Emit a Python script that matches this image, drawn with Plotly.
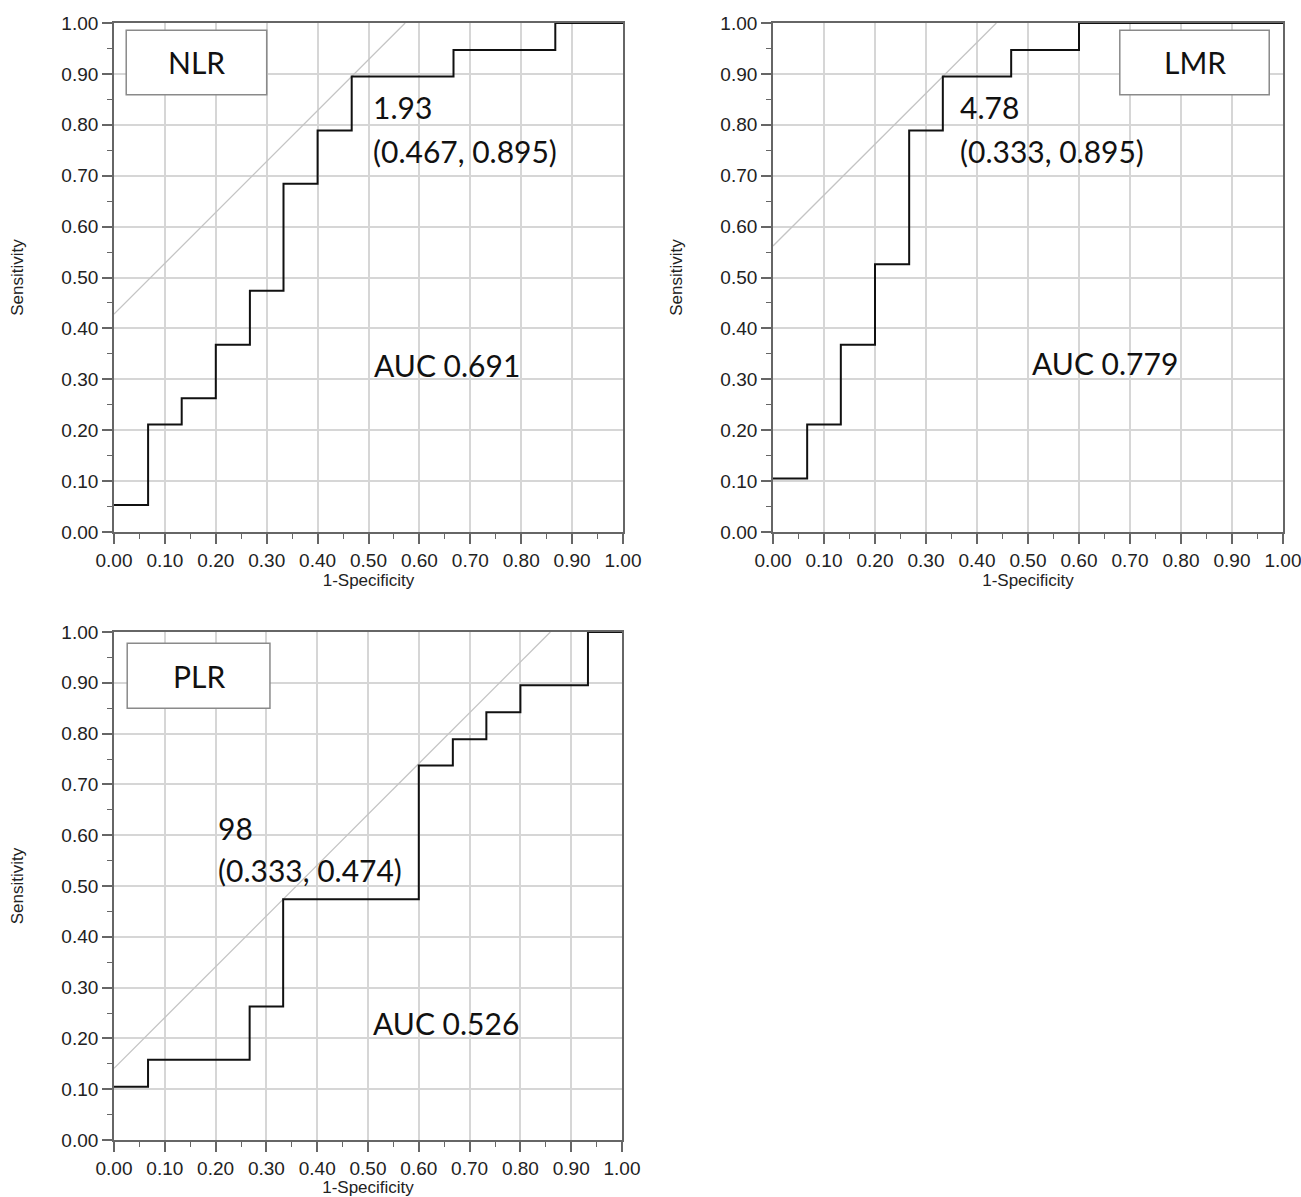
import plotly.graph_objects as go

# ---- data ----
nlr_fpr = [0.0, 0.067, 0.133, 0.200, 0.267, 0.333, 0.400, 0.467, 0.667, 0.867, 1.0]
nlr_tpr = [0.053, 0.211, 0.263, 0.368, 0.474, 0.684, 0.789, 0.895, 0.947, 1.0, 1.0]
lmr_fpr = [0.0, 0.067, 0.133, 0.200, 0.267, 0.333, 0.467, 0.600, 1.0]
lmr_tpr = [0.105, 0.211, 0.368, 0.526, 0.789, 0.895, 0.947, 1.0, 1.0]
plr_fpr = [0.0, 0.067, 0.267, 0.333, 0.600, 0.667, 0.733, 0.800, 0.933, 1.0]
plr_tpr = [0.105, 0.158, 0.263, 0.474, 0.737, 0.789, 0.842, 0.895, 1.0, 1.0]

panel_names = ["NLR", "LMR", "PLR"]
cutoff_values = ["1.93", "4.78", "98"]
cutoff_fpr = [0.467, 0.333, 0.333]
cutoff_tpr = [0.895, 0.895, 0.474]
auc_values = [0.691, 0.779, 0.526]
tick_vals = [0.0, 0.1, 0.2, 0.3, 0.4, 0.5, 0.6, 0.7, 0.8, 0.9, 1.0]

W, H = 1301, 1197


def dx(px):
    return px / W


def dy(py):
    return 1 - py / H


fig = go.Figure()

panels = [
    dict(xd=[dx(114), dx(623)], yd=[dy(532), dy(23)], fpr=nlr_fpr, tpr=nlr_tpr,
         box=[0.024, 0.300, 0.859, 0.986], cut=[0.505, 0.835, 0.749], auc=[0.654, 0.328]),
    dict(xd=[dx(773), dx(1283)], yd=[dy(532), dy(23)], fpr=lmr_fpr, tpr=lmr_tpr,
         box=[0.680, 0.973, 0.859, 0.986], cut=[0.363, 0.835, 0.749], auc=[0.651, 0.332]),
    dict(xd=[dx(114), dx(622)], yd=[dy(1140), dy(632)], fpr=plr_fpr, tpr=plr_tpr,
         box=[0.026, 0.307, 0.850, 0.978], cut=[0.200, 0.614, 0.531], auc=[0.654, 0.230]),
]

tickfont = dict(family="Liberation Sans, Arial, sans-serif", size=19, color="#222")
titlefont = dict(family="Liberation Sans, Arial, sans-serif", size=17, color="#222")
annfont = dict(family="Lato, sans-serif", size=30, color="#111")

for i, p in enumerate(panels):
    n = i + 1
    xa = "x" if n == 1 else f"x{n}"
    ya = "y" if n == 1 else f"y{n}"
    # reference (Youden tangent) line
    b = cutoff_tpr[i] - cutoff_fpr[i]
    fig.add_trace(go.Scatter(x=[0, 1 - b], y=[b, 1], mode="lines",
                             line=dict(color="#c4c4c4", width=1.3),
                             xaxis=xa, yaxis=ya, showlegend=False, hoverinfo="skip"))
    fig.add_trace(go.Scatter(x=p["fpr"], y=p["tpr"], mode="lines",
                             line=dict(color="#111", width=2, shape="hv"),
                             xaxis=xa, yaxis=ya, showlegend=False, cliponaxis=False))
    axcommon = dict(range=[0, 1], tickvals=tick_vals, tickformat=".2f",
                    ticks="outside", ticklen=10, tickwidth=1.5, tickcolor="#666",
                    showline=True, linecolor="#666", linewidth=1.8, mirror=True,
                    showgrid=True, gridcolor="#d6d6d6", gridwidth=1.5,
                    zeroline=False, tickfont=tickfont, automargin=False,
                    ticklabeloverflow="allow",
                    minor=dict(dtick=0.05, ticks="outside", ticklen=5, tickcolor="#666",
                               tickwidth=1.3, showgrid=False),
                    fixedrange=True)
    fig.layout[("xaxis" if n == 1 else f"xaxis{n}")] = dict(
        domain=p["xd"], anchor=ya,
        title=dict(text="1-Specificity", standoff=1, font=titlefont),
        **axcommon)
    fig.layout[("yaxis" if n == 1 else f"yaxis{n}")] = dict(
        domain=p["yd"], anchor=xa,
        title=dict(text="Sensitivity", standoff=33, font=titlefont),
        **axcommon)
    bx = p["box"]
    fig.add_shape(type="rect", xref=f"{xa} domain", yref=f"{ya} domain",
                  x0=bx[0], x1=bx[1], y0=bx[2], y1=bx[3],
                  line=dict(color="#8a8a8a", width=1.5), fillcolor="white", layer="above")
    fig.add_annotation(xref=f"{xa} domain", yref=f"{ya} domain",
                       x=(bx[0] + bx[1]) / 2, y=(bx[2] + bx[3]) / 2,
                       text=panel_names[i], showarrow=False, font=annfont,
                       xanchor="center", yanchor="middle")
    c = p["cut"]
    fig.add_annotation(xref=f"{xa} domain", yref=f"{ya} domain", x=c[0], y=c[1],
                       text=cutoff_values[i], showarrow=False, font=annfont,
                       xanchor="left", yanchor="middle")
    fig.add_annotation(xref=f"{xa} domain", yref=f"{ya} domain", x=c[0], y=c[2],
                       text=f"({cutoff_fpr[i]:.3f}, {cutoff_tpr[i]:.3f})", showarrow=False,
                       font=annfont, xanchor="left", yanchor="middle")
    a = p["auc"]
    fig.add_annotation(xref=f"{xa} domain", yref=f"{ya} domain", x=a[0], y=a[1],
                       text=f"AUC {auc_values[i]:.3f}", showarrow=False, font=annfont,
                       xanchor="center", yanchor="middle")

fig.update_layout(width=W, height=H, margin=dict(l=0, r=0, t=0, b=0),
                  plot_bgcolor="white", paper_bgcolor="white", showlegend=False)

# remove the default 8px page margin so the figure fills the window exactly
fig.write_html("out.html", config={"displayModeBar": False},
               post_script="document.body.style.margin='0';document.body.style.overflow='hidden';")
